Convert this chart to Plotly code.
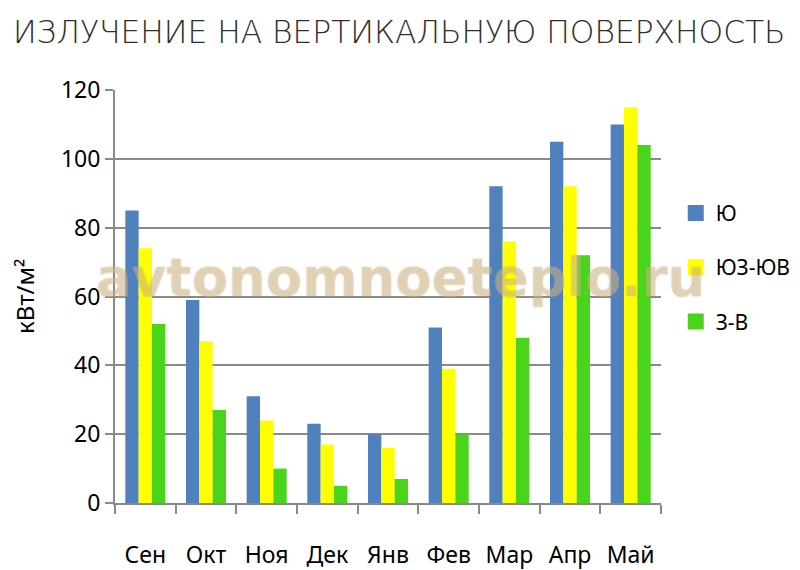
import plotly.graph_objects as go

months = ["Сен", "Окт", "Ноя", "Дек", "Янв", "Фев", "Мар", "Апр", "Май"]
south = [85, 59, 31, 23, 20, 51, 92, 105, 110]
sw_se = [74, 47, 24, 17, 16, 39, 76, 92, 115]
west_east = [52, 27, 10, 5, 7, 20, 48, 72, 104]
series_names = ["Ю", "ЮЗ-ЮВ", "З-В"]
colors = ["#4F81BD", "#FFFF00", "#4AD41C"]
y_ticks = [0, 20, 40, 60, 80, 100, 120]

fig = go.Figure()
for name, vals, col in zip(series_names, [south, sw_se, west_east], colors):
    fig.add_trace(go.Bar(x=months, y=vals, name=name, marker_color=col,
                         marker_line_width=0, legendgroup=name, showlegend=False))
# legend entries with larger square swatches
for name, col in zip(series_names, colors):
    fig.add_trace(go.Scatter(x=[None], y=[None], mode="markers", name=name,
                             legendgroup=name,
                             marker=dict(symbol="square", size=16, color=col)))

axis_col = "#8A8A8A"
fig.update_layout(
    width=792, height=562,
    margin=dict(l=107, r=139, t=82, b=67, autoexpand=False),
    paper_bgcolor="white", plot_bgcolor="white",
    barmode="group", bargap=0.34, bargroupgap=0,
    font=dict(family="Noto Sans", color="#000000", size=23),
    showlegend=True,
    legend=dict(x=1.027, y=0.751, xanchor="left", yanchor="top",
                font=dict(size=21, color="#000"), tracegroupgap=24,
                itemwidth=30),
    title=dict(text="ИЗЛУЧЕНИЕ НА ВЕРТИКАЛЬНУЮ ПОВЕРХНОСТЬ",
               font=dict(family="DejaVu Sans", weight=200, size=31.3, color="#2E2E2E"),
               x=0.494, xanchor="center", y=0.958, yanchor="middle"),
    xaxis=dict(showline=True, linecolor=axis_col, linewidth=2, automargin=False,
               ticks="outside", tickson="boundaries", ticklen=9, tickwidth=2,
               tickcolor=axis_col, ticklabelstandoff=30,
               tickfont=dict(size=23)),
    yaxis=dict(range=[0, 120], tickvals=y_ticks, showline=True, linecolor=axis_col,
               automargin=False,
               linewidth=2, ticks="outside", ticklen=8, tickwidth=2, tickcolor=axis_col,
               showgrid=True, gridcolor=axis_col, gridwidth=2, zeroline=False,
               tickfont=dict(size=23)),
)

fig.add_annotation(text="кВт/м²", xref="paper", yref="paper",
                   x=(25 - 115) / 546, y=0.499, xanchor="center", yanchor="middle",
                   textangle=-90, showarrow=False, font=dict(size=24, color="#000"))

fig.add_annotation(text="avtonomnoeteplo.ru", xref="paper", yref="paper",
                   x=0.523, y=0.545, xanchor="center", yanchor="middle",
                   showarrow=False,
                   font=dict(family="DejaVu Sans", weight="bold", size=53,
                             color="rgba(245,200,120,0.35)",
                             shadow="-1px 0 rgba(140,140,140,0.3), 1px 0 rgba(140,140,140,0.3), 0 -1px rgba(140,140,140,0.3), 0 1px rgba(140,140,140,0.3)"))

fig.write_html("out.html")
